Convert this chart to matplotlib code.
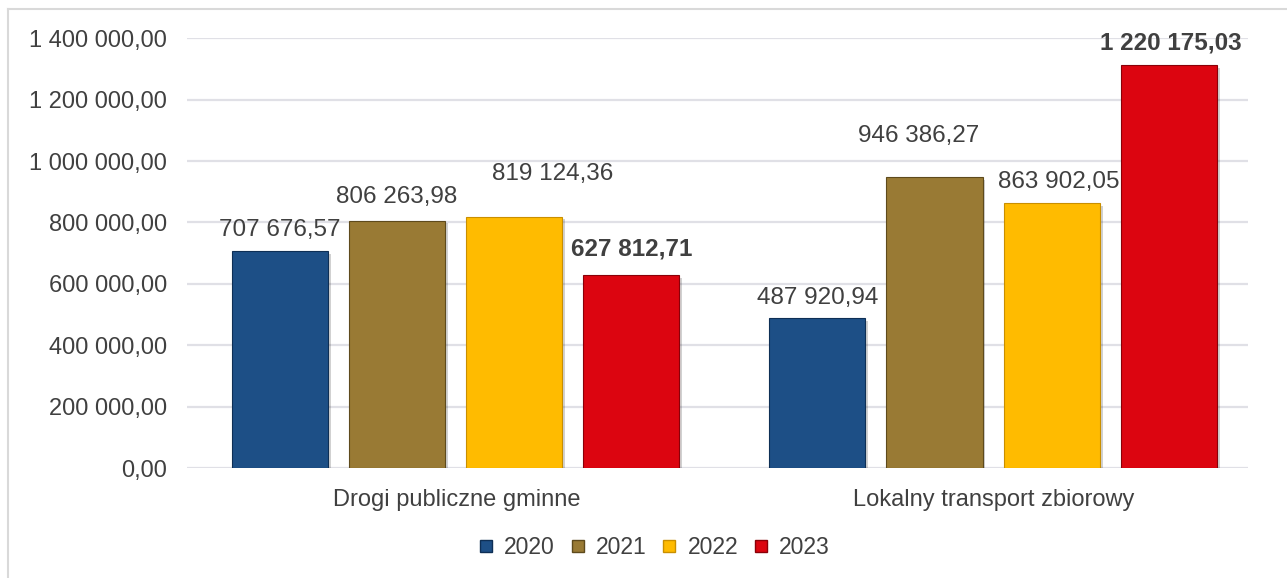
import matplotlib
matplotlib.use("Agg")
import matplotlib.pyplot as plt
import matplotlib.patheffects as pe
from matplotlib.lines import Line2D
import numpy as np

plt.rcParams['font.family'] = ['Liberation Sans', 'DejaVu Sans']

kategorie = ["Drogi publiczne gminne", "Lokalny transport zbiorowy"]
lata = ["2020", "2021", "2022", "2023"]
# wysokosci slupkow
wartosci = {
    "2020": [707676.57, 487920.94],
    "2021": [806263.98, 946386.27],
    "2022": [819124.36, 863902.05],
    "2023": [627812.71, 1312000.0],
}
etykiety = {
    "2020": ["707 676,57", "487 920,94"],
    "2021": ["806 263,98", "946 386,27"],
    "2022": ["819 124,36", "863 902,05"],
    "2023": ["627 812,71", "1 220 175,03"],
}
yticks = [0, 200000, 400000, 600000, 800000, 1000000, 1200000, 1400000]
yticklabels = ["0,00", "200 000,00", "400 000,00", "600 000,00", "800 000,00",
               "1 000 000,00", "1 200 000,00", "1 400 000,00"]

kolory = {"2020": "#1d4f86", "2021": "#997a34", "2022": "#ffbb00", "2023": "#dc0510"}
krawedzie = {"2020": "#0e2f55", "2021": "#5e4a1c", "2022": "#c98f00", "2023": "#8a0008"}
# przesuniecia srodka etykiety (px): (dx, dy nad slupkiem)
przesun = {
    "2020": [(0, 22), (0, 22)],
    "2021": [(0, 25), (-16, 43)],
    "2022": [(39, 44), (7, 22)],
    "2023": [(0, 28), (2, 24)],
}
pogrubione = {"2023"}

tekst = "#404040"

fig = plt.figure(figsize=(12.87, 5.78), dpi=100)
ax = fig.add_axes([0.145, 0.19, 0.825, 0.744])

x = np.arange(len(kategorie))
slot = 0.218
szer = 0.179
for i, rok in enumerate(lata):
    pos = x + (i - 1.5) * slot
    bars = ax.bar(pos, wartosci[rok], width=szer, color=kolory[rok],
                  edgecolor=krawedzie[rok], linewidth=0.8, zorder=3)
    for b in bars:
        b.set_path_effects([pe.SimplePatchShadow(offset=(2, -2), shadow_rgbFace="#000000", alpha=0.18),
                            pe.Normal()])
    for j, b in enumerate(bars):
        dx, dy = przesun[rok][j]
        ax.annotate(etykiety[rok][j], (b.get_x() + b.get_width() / 2, b.get_height()),
                    xytext=(dx * 0.72, dy * 0.72 - 1), textcoords="offset points",
                    ha="center", va="center", fontsize=17.5, color=tekst,
                    fontweight="bold" if rok in pogrubione else "normal",
                    annotation_clip=False, zorder=5)

ax.set_ylim(0, 1400000)
ax.set_xlim(-0.5, 1.475)
ax.set_yticks(yticks)
ax.set_yticklabels(yticklabels, fontsize=17, color=tekst)
ax.set_xticks(x + 0.002)
ax.set_xticklabels(kategorie, fontsize=17, color=tekst)
ax.tick_params(axis="both", length=0)
ax.tick_params(axis="x", pad=15)
ax.tick_params(axis="y", pad=14)
ax.grid(axis="y", color="#e0e0e6", linewidth=1.6, zorder=0)
for s in ax.spines.values():
    s.set_visible(False)

uchwyty = [Line2D([0], [0], marker="s", linestyle="none", markersize=9,
                  markerfacecolor=kolory[r], markeredgecolor=krawedzie[r]) for r in lata]
fig.legend(uchwyty, lata, loc="center", bbox_to_anchor=(0.508, 0.052), ncol=4,
           frameon=False, fontsize=16.5, handlelength=0.7, handletextpad=0.45,
           columnspacing=0.63, labelcolor=tekst)

# ramka wykresu (lewa i gorna krawedz)
fig.add_artist(Line2D([8 / 1287, 8 / 1287], [0, 1 - 9 / 578], transform=fig.transFigure,
                      color="#d9d9d9", linewidth=1.5))
fig.add_artist(Line2D([8 / 1287, 1], [1 - 9 / 578, 1 - 9 / 578], transform=fig.transFigure,
                      color="#d9d9d9", linewidth=1.5))

fig.savefig("out.png", dpi=100)
